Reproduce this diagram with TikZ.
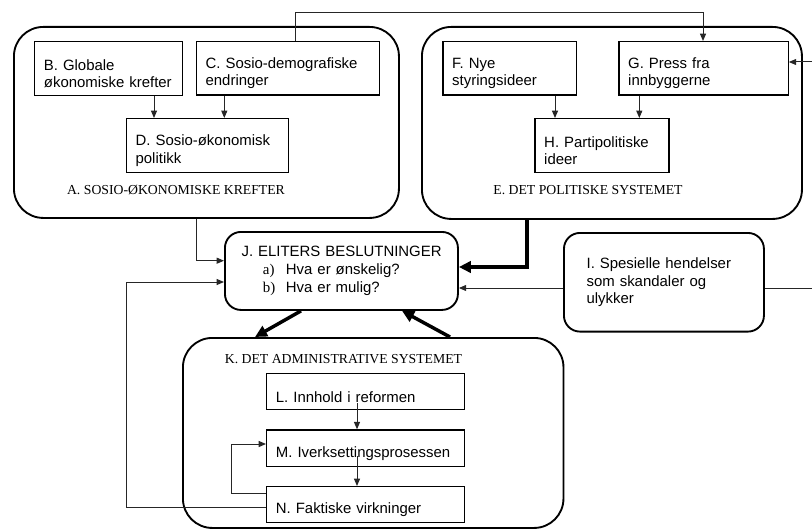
\documentclass[tikz,border=0pt]{standalone}
\usepackage{fontspec}
\setmainfont{Liberation Sans}
\newfontfamily\serifA{Liberation Serif}
\usetikzlibrary{arrows.meta,calc}
\newcommand\tgap{\rule{0pt}{15.8pt}}
\begin{document}
\begin{tikzpicture}[x=0.75pt,y=-0.75pt,
  bx/.style={draw, line width=0.9pt, anchor=north west, inner xsep=7pt, inner ysep=0pt,
    align=left, font=\fontsize{11.2pt}{12.9pt}\selectfont},
  rbig/.style={draw, line width=1.4pt, rounded corners=22pt, anchor=north west, inner sep=0pt},
  rmid/.style={draw, line width=1.4pt, rounded corners=12pt, anchor=north west, inner ysep=0pt,
    align=left, font=\fontsize{11.2pt}{13.3pt}\selectfont},
  ttl/.style={font=\serifA\fontsize{10.3pt}{12pt}\selectfont, inner sep=0pt},
  ln/.style={line width=0.75pt, draw=black!85},
  ar/.style={ln, -{Triangle[length=5.5pt,width=4.5pt]}},
  tk/.style={line width=2.6pt, line join=miter, -{Triangle[length=9pt,width=8.5pt]}}]
\useasboundingbox (0,0) rectangle (812,528);

% big rounded containers
\node[rbig, minimum width=288.75pt, minimum height=143.25pt] (A) at (13,26) {};
\node[rbig, minimum width=285pt, minimum height=144pt] (E) at (421,26) {};
\node[rbig, minimum width=285.4pt, minimum height=142.5pt] (K) at (182,337) {};

\node[ttl] (Alab) at (176,190) {A. SOSIO-ØKONOMISKE KREFTER};
\node[ttl] (Elab) at (588,190) {E. DET POLITISKE SYSTEMET};
\node[ttl] (Klab) at (343.5,359) {K. DET ADMINISTRATIVE SYSTEMET};

% inner boxes
\node[bx, minimum width=111pt, text width=97pt, minimum height=40.5pt] (B) at (34,41)
  {\tgap B. Globale\\økonomiske krefter};
\node[bx, minimum width=137.5pt, text width=123.5pt, minimum height=40pt] (C) at (195.7,41)
  {\tgap C. Sosio-demografiske\\endringer};
\node[bx, minimum width=121.5pt, text width=107.5pt, minimum height=40.5pt] (D) at (125.7,118)
  {\tgap D. Sosio-økonomisk\\politikk};
\node[bx, minimum width=100pt, text width=86pt, minimum height=40pt] (F) at (442.3,41)
  {\tgap F. Nye\\styringsideer};
\node[bx, minimum width=127pt, text width=113pt, minimum height=40pt] (G) at (618.3,41)
  {\tgap G. Press fra\\innbyggerne};
\node[bx, minimum width=100.5pt, text width=86.5pt, minimum height=40.5pt] (H) at (534.3,118)
  {\tgap H. Partipolitiske\\ideer};
\node[bx, minimum width=148.5pt, text width=134.5pt, minimum height=27pt] (L) at (266,373)
  {\tgap L. Innhold i reformen};
\node[bx, minimum width=148.5pt, text width=134.5pt, minimum height=27.5pt] (M) at (266,429.3)
  {\tgap M. Iverksettingsprosessen};
\node[bx, minimum width=148.5pt, text width=134.5pt, minimum height=27pt] (N) at (266,486)
  {\tgap N. Faktiske virkninger};

\node[rmid, minimum width=174.75pt, minimum height=58.5pt, inner xsep=10pt, text width=154.75pt] (J) at (224,231)
  {\hspace*{2.5pt}J. ELITERS BESLUTNINGER\\
   \hspace*{18.5pt}\makebox[17.25pt][l]{\serifA a)}Hva er ønskelig?\\
   \hspace*{18.5pt}\makebox[17.25pt][l]{\serifA b)}Hva er mulig?};
\node[rmid, minimum width=150pt, minimum height=74pt, inner xsep=17pt, text width=116pt] (I) at (563,232)
  {I. Spesielle hendelser\\som skandaler og\\ulykker};

% helper coordinates
\coordinate (t1) at (295,13);
\coordinate (t2) at (703,13);
\coordinate (r1) at (812,62);
\coordinate (r2) at (812,288);
\coordinate (xb) at (154,0);
\coordinate (xc) at (224.3,0);
\coordinate (xf) at (555,0);
\coordinate (xg) at (639.3,0);
\coordinate (aj) at (196,260.7);
\coordinate (ej) at (527,267);
\coordinate (ij) at (0,288);
\coordinate (jk1) at (301,0);
\coordinate (jk2) at (255,0);
\coordinate (kj1) at (450,0);
\coordinate (kj2) at (402,0);
\coordinate (xm) at (357,0);
\coordinate (nm1) at (231,493);
\coordinate (nm2) at (231,444);
\coordinate (fb1) at (126,507);
\coordinate (fb2) at (126,282);

% connectors
\draw[ar] (C.north -| t1) -- (t1) -- (t2) -- (G.north -| t2);
\draw[ar] (r1) -- (G.east |- r1);
\draw[ar] (B.south -| xb) -- (D.north -| xb);
\draw[ar] (C.south -| xc) -- (D.north -| xc);
\draw[ar] (F.south -| xf) -- (H.north -| xf);
\draw[ar] (G.south -| xg) -- (H.north -| xg);
\draw[ar] (A.south -| aj) -- (aj) -- (J.west |- aj);
\draw[tk] (E.south -| ej) -- (ej) -- (J.east |- ej);
\draw[ar] (I.west |- ij) -- (J.east |- ij);
\draw[ln] (I.east |- r2) -- (r2);
\draw[tk] (J.south -| jk1) -- (K.north -| jk2);
\draw[tk] (K.north -| kj1) -- (J.south -| kj2);
\draw[ar] ($(L.south -| xm)+(0,-7)$) -- (M.north -| xm);
\draw[ar] ($(M.south -| xm)+(0,-11)$) -- (N.north -| xm);
\draw[ar] (N.west |- nm1) -- (nm1) -- (nm2) -- (M.west |- nm2);
\draw[ar] (N.west |- fb1) -- (fb1) -- (fb2) -- (J.west |- fb2);
\end{tikzpicture}
\end{document}
